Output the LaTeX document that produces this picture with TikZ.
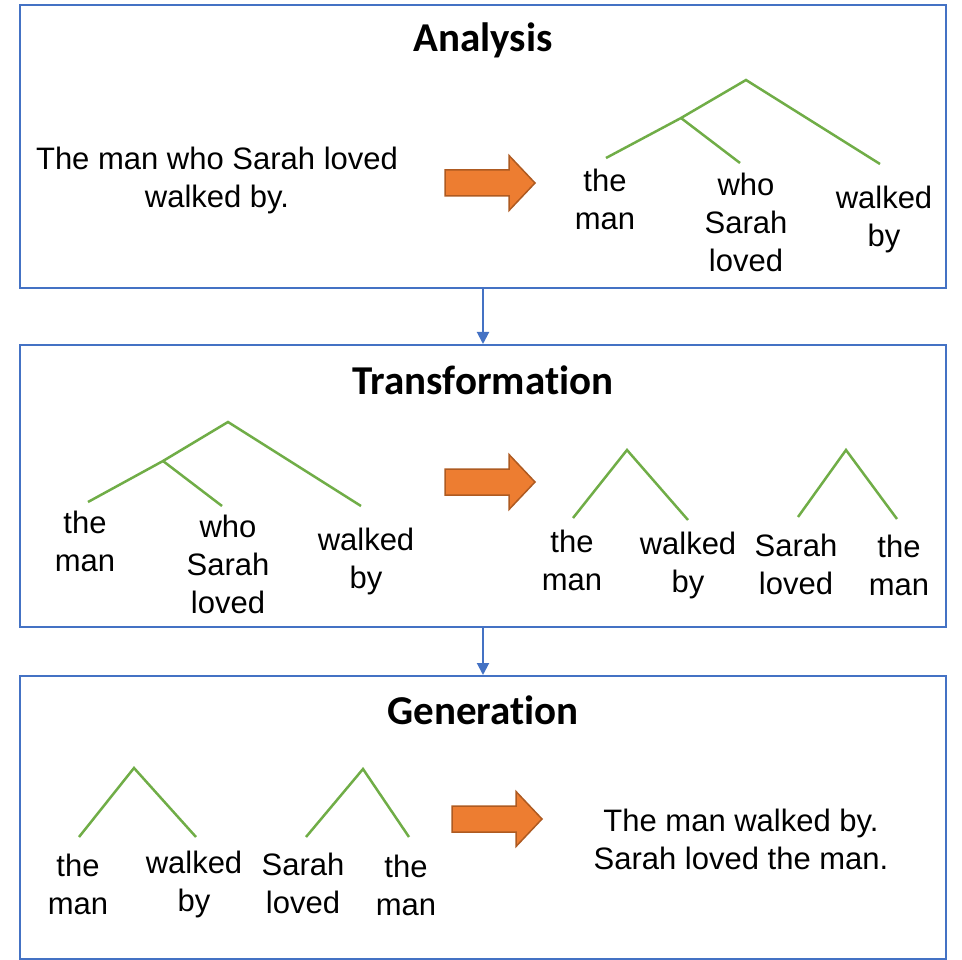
\documentclass[tikz,border=0pt]{standalone}
\usepackage{fontspec}
\setmainfont{Liberation Sans}
\newfontfamily\titlefont{Carlito}[Ligatures=NoCommon]
\usetikzlibrary{arrows.meta}
\definecolor{boxblue}{HTML}{4472C4}
\definecolor{treegreen}{HTML}{70AD47}
\definecolor{orfill}{HTML}{ED7D31}
\definecolor{oredge}{HTML}{AE5A21}
\tikzset{
  panel/.style={draw=boxblue, line width=2pt, minimum width=926pt, inner sep=0pt},
  ttl/.style={font=\titlefont\bfseries\fontsize{41}{46}\selectfont, inner sep=0pt},
  lbl/.style={font=\fontsize{31}{38}\selectfont, align=center, inner sep=0pt},
  branch/.style={draw=treegreen, line width=2.5pt},
  flow/.style={draw=boxblue, line width=2pt, -{Triangle[length=12pt,width=12pt]}},
  bigarrow/.pic={\draw[fill=orfill, draw=oredge, line width=1.5pt, line join=miter]
    (-45,-13) -- (19,-13) -- (19,-27.5) -- (45,0) -- (19,27.5) -- (19,13) -- (-45,13) -- cycle;}
}
\begin{document}
\begin{tikzpicture}[x=1pt,y=-1pt]
\useasboundingbox (0,0) rectangle (962,960);
% panels
\node[panel, minimum height=283pt] (box1) at (483,146.5) {};
\node[panel, minimum height=282pt] (box2) at (483,486) {};
\node[panel, minimum height=283pt] (box3) at (483,817.5) {};
\draw[flow] (box1.south) -- (box2.north);
\draw[flow] (box2.south) -- (box3.north);
% titles
\node[ttl] (t1) at (483,40) {Analysis};
\node[ttl] (t2) at (483,380) {Transformation};
\node[ttl] (t3) at (483,710) {Generation};
% ---------- Analysis ----------
\node[lbl] (s1) at (217,180) {The man who Sarah loved\\walked by.};
\pic at (490,183) {bigarrow};
\coordinate (a1r) at (746,80);
\coordinate (a1m) at (681,118);
\coordinate (a1l) at (606,158);
\coordinate (a1c) at (740,163);
\coordinate (a1e) at (880,164);
\draw[branch] (a1l) -- (a1m) -- (a1r) -- (a1e);
\draw[branch] (a1m) -- (a1c);
\node[lbl] (a1x) at (605,199) {the\\man};
\node[lbl] (a1y) at (746,222) {who\\Sarah\\loved};
\node[lbl] (a1z) at (884,219) {walked\\by};
% ---------- Transformation ----------
\coordinate (b1r) at (228,422);
\coordinate (b1m) at (163,461);
\coordinate (b1l) at (88,502);
\coordinate (b1c) at (222,506);
\coordinate (b1e) at (361,506);
\draw[branch] (b1l) -- (b1m) -- (b1r) -- (b1e);
\draw[branch] (b1m) -- (b1c);
\node[lbl] (b1x) at (85,541) {the\\man};
\node[lbl] (b1y) at (228,564) {who\\Sarah\\loved};
\node[lbl] (b1z) at (366,561) {walked\\by};
\pic at (490,482) {bigarrow};
\coordinate (b2r) at (627,450);
\coordinate (b2l) at (573,518);
\coordinate (b2e) at (688,520);
\draw[branch] (b2l) -- (b2r) -- (b2e);
\coordinate (b3r) at (846,450);
\coordinate (b3l) at (798,517);
\coordinate (b3e) at (897,519);
\draw[branch] (b3l) -- (b3r) -- (b3e);
\node[lbl] (b2x) at (572,560) {the\\man};
\node[lbl] (b2z) at (688,565) {walked\\by};
\node[lbl] (b3x) at (796,564) {Sarah\\loved};
\node[lbl] (b3z) at (899,565) {the\\man};
% ---------- Generation ----------
\coordinate (c1r) at (134,768);
\coordinate (c1l) at (79,837);
\coordinate (c1e) at (196,837);
\draw[branch] (c1l) -- (c1r) -- (c1e);
\coordinate (c2r) at (363,769);
\coordinate (c2l) at (306,837);
\coordinate (c2e) at (409,837);
\draw[branch] (c2l) -- (c2r) -- (c2e);
\node[lbl] (c1x) at (78,884) {the\\man};
\node[lbl] (c1z) at (194,884) {walked\\by};
\node[lbl] (c2x) at (303,883) {Sarah\\loved};
\node[lbl] (c2z) at (406,885) {the\\man};
\pic at (497,819) {bigarrow};
\node[lbl] (s3) at (741,839) {The man walked by.\\Sarah loved the man.};
\end{tikzpicture}
\end{document}
